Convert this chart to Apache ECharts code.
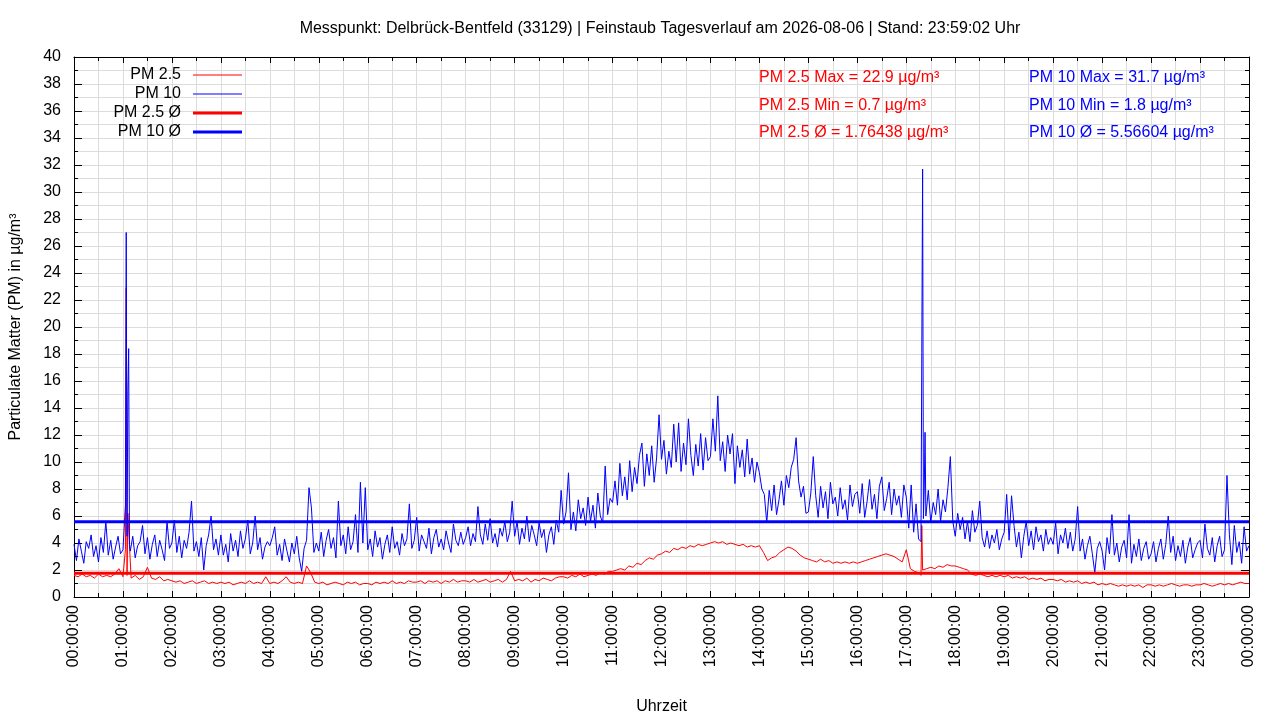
<!DOCTYPE html>
<html>
<head>
<meta charset="utf-8">
<script src="https://cdn.jsdelivr.net/npm/echarts@6/dist/echarts.min.js"></script>
<style>
  html, body { margin: 0; padding: 0; background: #fff; }
  #chart { width: 1280px; height: 720px; }
</style>
</head>
<body>
<div id="chart"></div>
<script>
// PM 2.5: one reading every 5 minutes, PM 10: every 3 minutes (one row per hour)
const pm25StepMinutes = 5
const pm10StepMinutes = 3

const pm25Values = [
  1.6, 1.5, 1.7, 1.5, 1.6, 1.4, 1.7, 1.5, 1.6, 1.5, 1.7, 2.1,
  1.5, 1.6, 1.4, 1.6, 1.3, 1.5, 2.2, 1.4, 1.3, 1.5, 1.2, 1.3,
  1.2, 1.1, 1.2, 1.0, 1.1, 1.2, 1.0, 1.1, 1.2, 1.0, 1.1, 1.0,
  1.1, 1.0, 1.1, 0.9, 1.0, 1.1, 1.0, 1.2, 1.0, 1.1, 1.0, 1.5,
  1.0, 1.1, 1.0, 1.2, 1.5, 1.1, 1.0, 1.1, 1.0, 2.3, 1.8, 1.1,
  1.0, 1.1, 0.9, 1.0, 1.1, 1.0, 0.9, 1.1, 1.0, 1.1, 0.9, 1.0,
  1.0, 0.9, 1.1, 1.0, 1.1, 1.0, 1.2, 1.0, 1.1, 1.0, 1.2, 1.1,
  1.1, 1.2, 1.0, 1.2, 1.1, 1.2, 1.0, 1.2, 1.1, 1.3, 1.1, 1.2,
  1.2, 1.1, 1.3, 1.1, 1.2, 1.3, 1.1, 1.2, 1.3, 1.1, 1.3, 1.9,
  1.2, 1.3, 1.2, 1.4, 1.1, 1.3, 1.2, 1.4, 1.3, 1.2, 1.4, 1.5,
  1.5, 1.4, 1.6, 1.5, 1.7, 1.5, 1.6, 1.7, 1.6, 1.8, 1.7, 1.9,
  1.9, 2.0, 2.1, 2.0, 2.3, 2.2, 2.5, 2.4, 2.7, 2.9, 2.8, 3.1,
  3.2, 3.4, 3.3, 3.6, 3.5, 3.7, 3.6, 3.8, 3.7, 3.9, 3.8, 3.9,
  4.0, 4.1, 4.0, 4.1, 3.9, 4.0, 3.9, 3.8, 3.9, 3.7, 3.8, 3.7,
  3.8, 3.3, 2.7, 2.9, 3.0, 3.3, 3.5, 3.7, 3.6, 3.4, 3.1, 2.9,
  2.8, 2.7, 2.6, 2.8, 2.6, 2.7, 2.5, 2.6, 2.5, 2.6, 2.5, 2.6,
  2.5, 2.6, 2.7, 2.8, 2.9, 3.0, 3.1, 3.2, 3.1, 3.0, 2.8, 2.6,
  3.5, 2.1, 1.9, 1.8, 2.0, 2.1, 2.2, 2.1, 2.3, 2.2, 2.4, 2.3,
  2.3, 2.2, 2.1, 2.0, 1.7, 1.6, 1.7, 1.6, 1.5, 1.6, 1.5, 1.6,
  1.5, 1.6, 1.4, 1.5, 1.4, 1.5, 1.3, 1.4, 1.3, 1.4, 1.2, 1.3,
  1.3, 1.2, 1.3, 1.1, 1.2, 1.1, 1.2, 1.0, 1.1, 1.0, 1.1, 0.9,
  1.0, 0.9, 1.0, 0.9, 0.8, 0.9, 0.8, 0.9, 0.8, 0.9, 0.7, 0.9,
  0.9, 0.8, 0.9, 0.8, 0.9, 1.0, 0.9, 0.8, 0.9, 0.9, 0.8, 0.9,
  0.9, 1.0, 0.9, 0.8, 0.9, 1.0, 0.9, 1.0, 0.9, 1.0, 1.1, 1.0,
  1.0
]

const pm10Values = [
  3.9, 2.7, 4.3, 3.4, 2.5, 4.1, 3.6, 4.6, 3.0, 3.8, 2.6, 4.4, 3.3, 5.6, 3.1, 4.2, 2.8, 3.7, 4.5, 3.2,
  3.5, 6.8, 15.2, 3.4, 4.5, 2.9, 3.8, 4.1, 5.3, 3.2, 4.4, 2.8, 3.9, 4.6, 3.0, 4.2, 3.5, 2.7, 5.6, 3.6,
  4.0, 5.7, 3.3, 4.5, 2.9, 4.2, 3.6, 4.8, 7.1, 3.4, 4.1, 3.0, 4.4, 2.0, 3.8, 4.6, 6.0, 3.5, 4.3, 3.1,
  4.6, 3.1, 3.9, 2.6, 4.7, 3.4, 4.2, 3.0, 4.9, 3.6, 4.3, 5.7, 3.2, 4.0, 6.0, 3.5, 4.4, 2.8, 3.7, 4.1,
  3.8, 4.4, 5.2, 3.1, 3.9, 2.7, 4.3, 3.4, 2.6, 4.0, 3.2, 4.5, 2.9, 1.9, 3.6, 4.2, 8.1, 6.6, 3.3, 4.0,
  3.4, 4.8, 3.0, 4.2, 5.0, 3.6, 4.4, 2.9, 7.1, 3.8, 4.6, 3.2, 5.2, 3.5, 4.1, 6.1, 3.3, 8.5, 4.0, 8.1,
  3.5, 4.3, 3.0, 4.9, 3.7, 4.4, 2.8, 3.9, 4.6, 3.3, 5.2, 3.6, 4.1, 3.1, 4.7, 3.8, 4.3, 6.9, 3.6, 4.2,
  5.9, 3.4, 4.6, 4.1, 3.6, 5.1, 3.2, 4.4, 5.0, 3.7, 4.3, 3.5, 4.9, 4.0, 3.3, 5.4, 4.2, 3.8, 4.8, 3.9,
  4.4, 5.2, 3.8, 4.7, 4.1, 6.7, 4.6, 3.9, 5.4, 4.2, 5.8, 4.0, 4.7, 3.7, 5.1, 4.5, 5.6, 4.1, 4.8, 7.1,
  4.5, 5.6, 3.9, 5.1, 4.3, 6.0, 4.1, 5.3, 4.6, 3.8, 5.5, 4.4, 5.0, 3.3, 4.6, 5.2, 3.9, 5.7, 4.8, 7.9,
  5.4, 6.3, 9.2, 5.0, 6.3, 4.9, 7.2, 5.8, 6.6, 5.3, 7.4, 5.6, 6.8, 5.1, 7.7, 6.0, 5.5, 9.7, 6.1, 7.3,
  7.0, 8.6, 6.8, 9.9, 7.5, 8.9, 7.2, 10.1, 7.8, 9.6, 8.4, 10.5, 11.4, 8.2, 10.6, 9.0, 11.2, 8.5, 10.3, 13.5,
  10.2, 11.6, 9.1, 10.8, 9.6, 12.8, 10.0, 12.9, 9.3, 11.4, 9.8, 13.2, 10.5, 9.0, 11.3, 9.7, 12.1, 9.4, 11.8, 10.1,
  10.4, 13.2, 10.8, 14.9, 10.1, 11.5, 9.3, 12.0, 10.6, 12.1, 8.4, 11.2, 9.6, 10.9, 8.9, 11.7, 9.1, 10.3, 8.5, 10.0,
  9.2, 8.0, 7.6, 5.5, 7.9, 6.4, 8.3, 6.1, 7.2, 8.6, 6.8, 9.0, 8.1, 9.6, 10.2, 11.8, 8.6, 7.4, 8.2, 6.2,
  6.3, 7.7, 10.4, 7.5, 5.9, 8.2, 6.6, 7.8, 5.8, 8.5, 6.9, 7.4, 6.0, 8.1, 6.5, 7.2, 5.7, 8.3, 6.7, 7.6,
  7.8, 6.2, 8.4, 5.9, 7.1, 8.7, 6.5, 7.6, 5.8, 8.2, 8.9, 6.4, 7.3, 8.5, 6.1, 8.0, 6.8, 7.5, 5.9, 8.3,
  7.4, 5.1, 8.3, 4.8, 6.9, 4.3, 4.1, 5.8, 6.0, 7.9, 5.5, 7.0, 6.1, 8.0, 5.6, 7.2, 6.3, 8.1, 10.4, 5.6,
  4.5, 6.2, 5.0, 5.9, 4.3, 5.6, 4.1, 6.4, 4.8, 5.3, 7.1, 4.4, 3.7, 4.9, 3.6, 4.6, 4.0, 5.0, 3.5, 4.3,
  4.8, 7.6, 4.2, 7.5, 5.3, 3.7, 4.8, 2.9, 4.5, 5.6, 3.8, 4.9, 3.5, 5.2, 4.1, 4.6, 3.4, 5.0, 3.9, 4.4,
  3.9, 5.5, 3.2, 4.6, 4.0, 5.1, 3.6, 4.8, 3.4, 4.3, 6.7, 3.4, 4.3, 2.8, 3.8, 4.5, 3.2, 1.8, 3.6, 4.1,
  3.4, 2.0, 4.4, 3.2, 6.1, 3.1, 4.0, 2.6, 3.7, 4.2, 2.9, 6.1, 2.5, 3.9, 3.0, 4.3, 2.7, 3.6, 4.1, 2.8,
  3.2, 4.1, 2.6, 3.6, 4.3, 2.8, 3.9, 6.0, 3.3, 4.5, 2.7, 3.8, 3.0, 4.2, 2.5, 3.7, 4.4, 2.9, 3.5, 4.0,
  4.2, 2.9, 5.4, 3.6, 3.1, 4.4, 2.6, 3.8, 4.5, 3.0, 3.5, 9.0, 4.6, 2.4, 5.3, 3.3, 4.1, 2.5, 5.2, 3.4,
  3.8
]

// short peaks between the regular readings: [minute of day, value]
const pm25Spikes = [[63, 3.5], [64, 22.9], [66, 6.2], [1038, 1.6], [1039, 5.3]]
const pm10Spikes = [[64, 27.0], [65, 4.5], [67, 18.4], [68, 3.9],
  [1039, 18.1], [1040, 31.7], [1042, 8.0], [1043, 12.2]]

const pm25Max = 22.9
const pm25Min = 0.7
const pm25Avg = 1.76438
const pm10Max = 31.7
const pm10Min = 1.8
const pm10Avg = 5.56604

const titleText = 'Messpunkt: Delbrück-Bentfeld (33129) | Feinstaub Tagesverlauf am 2026-08-06 | Stand: 23:59:02 Uhr'

const RED = '#ff0000'
const BLUE = '#0000ff'
const GRID = '#dcdcdc'
const FONT = 'Liberation Sans, Arial, sans-serif'

function toPoints (values, step, spikes) {
  return values.map((v, i) => [i * step, v])
    .concat(spikes)
    .sort((a, b) => a[0] - b[0])
}

function clockLabel (minutes) {
  const h = Math.round(minutes / 60) % 24
  return (h < 10 ? '0' : '') + h + ':00:00'
}

const chart = echarts.init(document.getElementById('chart'), null, { renderer: 'canvas' })

const tickStyle = { color: '#000', width: 1 }
const xBase = {
  type: 'value', min: 0, max: 1440, interval: 60,
  axisLine: { show: true, onZero: false, lineStyle: tickStyle },
  axisTick: { show: true, inside: true, length: 6, lineStyle: tickStyle },
  minorTick: { show: true, splitNumber: 2, length: 4, lineStyle: tickStyle }
}
const yBase = {
  type: 'value', min: 0, max: 40, interval: 2,
  axisLine: { show: true, onZero: false, lineStyle: tickStyle },
  axisTick: { show: true, inside: true, length: 8, lineStyle: tickStyle },
  minorTick: { show: true, splitNumber: 2, length: 4, lineStyle: tickStyle }
}

const legendRows = [
  { name: 'PM 2.5', top: 67, h: 1 },
  { name: 'PM 10', top: 86, h: 1 },
  { name: 'PM 2.5 Ø', top: 105, h: 3 },
  { name: 'PM 10 Ø', top: 124, h: 3 }
]

const statText = (text, x, y, color) => ({
  type: 'text', x: x, y: y, z: 100,
  style: { text: text, fill: color, font: '16px ' + FONT, verticalAlign: 'middle' }
})

const option = {
  animation: false,
  backgroundColor: '#fff',
  title: {
    text: titleText, left: 655, top: 16, textAlign: 'center',
    textStyle: { fontSize: 16, fontWeight: 'normal', color: '#000', fontFamily: FONT }
  },
  legend: legendRows.map(r => ({
    data: [{ name: r.name, icon: 'rect' }],
    orient: 'vertical', align: 'right', right: 1038, top: r.top, padding: 0,
    itemWidth: 49, itemHeight: r.h, selectedMode: false, z: 100,
    textStyle: { fontSize: 16, color: '#000', fontFamily: FONT, padding: [0, 7, 0, 0] }
  })),
  grid: { left: 74, right: 31, top: 57, bottom: 123, containLabel: false, outerBoundsMode: 'none' },
  xAxis: [
    Object.assign({}, xBase, {
      position: 'bottom',
      splitLine: { show: true, lineStyle: { color: GRID, width: 1 } },
      minorSplitLine: { show: true, lineStyle: { color: GRID, width: 1 } },
      axisLabel: { rotate: 90, margin: 8, fontSize: 16, color: '#000', fontFamily: FONT, formatter: clockLabel },
      name: 'Uhrzeit', nameLocation: 'middle', nameGap: 102,
      nameTextStyle: { fontSize: 16, color: '#000', fontFamily: FONT }
    }),
    Object.assign({}, xBase, {
      position: 'top', axisLabel: { show: false }, splitLine: { show: false }
    })
  ],
  yAxis: [
    Object.assign({}, yBase, {
      position: 'left',
      splitLine: { show: true, lineStyle: { color: GRID, width: 1 } },
      minorSplitLine: { show: true, lineStyle: { color: GRID, width: 1 } },
      axisLabel: { margin: 13, fontSize: 16, color: '#000', fontFamily: FONT },
      name: 'Particulate Matter (PM) in µg/m³', nameLocation: 'middle', nameRotate: 90, nameGap: 50,
      nameTextStyle: { fontSize: 16, color: '#000', fontFamily: FONT }
    }),
    Object.assign({}, yBase, {
      position: 'right', axisLabel: { show: false }, splitLine: { show: false }
    })
  ],
  series: [
    {
      name: 'PM 2.5', type: 'line', data: toPoints(pm25Values, pm25StepMinutes, pm25Spikes),
      showSymbol: false, symbol: 'none', sampling: null,
      lineStyle: { color: RED, width: 1 }, itemStyle: { color: RED }
    },
    {
      name: 'PM 10', type: 'line', data: toPoints(pm10Values, pm10StepMinutes, pm10Spikes),
      showSymbol: false, symbol: 'none', sampling: null,
      lineStyle: { color: BLUE, width: 1 }, itemStyle: { color: BLUE }
    },
    {
      name: 'PM 2.5 Ø', type: 'line', data: [[0, pm25Avg], [1440, pm25Avg]],
      showSymbol: false, symbol: 'none',
      lineStyle: { color: RED, width: 3 }, itemStyle: { color: RED }
    },
    {
      name: 'PM 10 Ø', type: 'line', data: [[0, pm10Avg], [1440, pm10Avg]],
      showSymbol: false, symbol: 'none',
      lineStyle: { color: BLUE, width: 3 }, itemStyle: { color: BLUE }
    }
  ],
  graphic: [
    statText('PM 2.5 Max = ' + pm25Max + ' µg/m³', 759, 78, RED),
    statText('PM 2.5 Min = ' + pm25Min + ' µg/m³', 759, 106, RED),
    statText('PM 2.5 Ø = ' + pm25Avg + ' µg/m³', 759, 133, RED),
    statText('PM 10 Max = ' + pm10Max + ' µg/m³', 1029, 78, BLUE),
    statText('PM 10 Min = ' + pm10Min + ' µg/m³', 1029, 106, BLUE),
    statText('PM 10 Ø = ' + pm10Avg + ' µg/m³', 1029, 133, BLUE)
  ]
}

chart.setOption(option)
</script>
</body>
</html>
